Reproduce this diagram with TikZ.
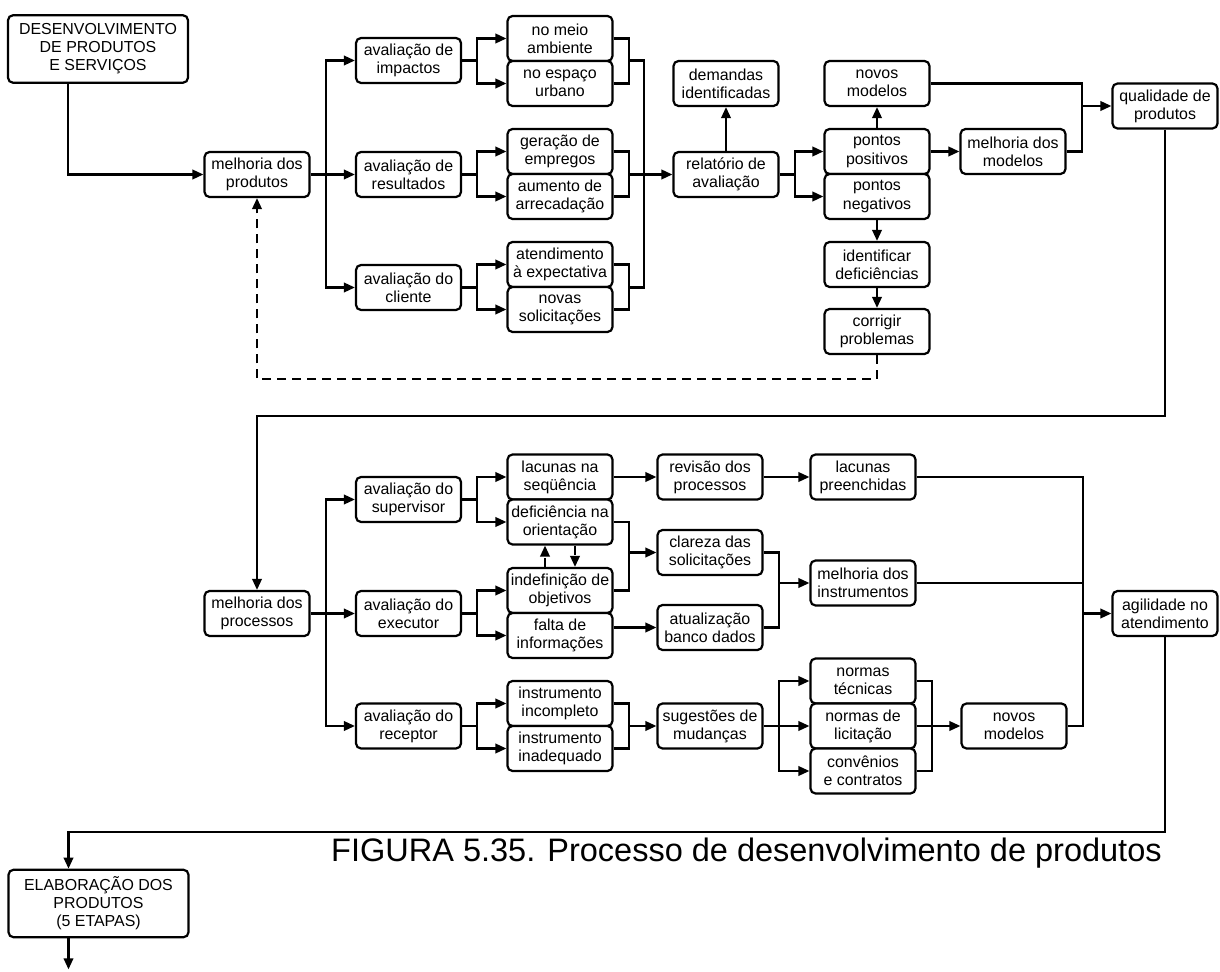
\documentclass[tikz,border=0pt]{standalone}
\usepackage{fontspec}
\setmainfont{Liberation Sans}
\usetikzlibrary{positioning,arrows.meta,calc}
\tikzset{
  procbox/.style={rectangle,rounded corners=0.1cm,draw=black,line width=1.25pt,
    fill=white,align=center,font=\fontsize{9.07}{10.3}\selectfont,
    minimum width=2.1cm,minimum height=0.9cm,inner sep=0pt},
  bigbox/.style={procbox,minimum width=3.6cm,minimum height=1.35cm},
  fl/.style={-{Triangle[length=0.22cm,width=0.19cm]},draw=black,line width=1.2pt},
  ln/.style={draw=black,line width=1.2pt},
  dfl/.style={fl,dash pattern=on 0.18cm off 0.12cm},
}
\begin{document}
\begin{tikzpicture}[x=0.02cm,y=-0.02cm]
  \useasboundingbox (0,0) rectangle (1220,972);
  % --- Parte 1: produtos ---
  \node[bigbox] (dev) at (98,49) {DESENVOLVIMENTO\\DE PRODUTOS\\E SERVIÇOS};
  \node[procbox] (mprod) at (257,174.5) {melhoria dos\\produtos};
  \foreach \name/\y/\lab in {avimp/60.5/{avaliação de\\impactos},avres/174.5/{avaliação de\\resultados},avcli/287.5/{avaliação do\\cliente}}{
    \node[procbox] (\name) at (408.5,\y) {\lab};}
  \foreach \name/\y/\lab in {meio/38.5/{no meio\\ambiente},urb/83.5/{no espaço\\urbano},emp/151.5/{geração de\\empregos},arr/196.5/{aumento de\\arrecadação},expc/264.5/{atendimento\\à expectativa},sol/309.5/{novas\\solicitações}}{
    \node[procbox] (\name) at (560,\y) {\lab};}
  \node[procbox] (relat) at (726,174.5) {relatório de\\avaliação};
  \node[procbox] (dem) at (726,83.5) {demandas\\identificadas};
  \node[procbox] (novos) at (877,83.5) {novos\\modelos};
  \node[procbox] (ppos) at (877,151.5) {pontos\\positivos};
  \node[procbox] (pneg) at (877,196.5) {pontos\\negativos};
  \node[procbox] (ident) at (877,264.5) {identificar\\deficiências};
  \node[procbox] (corr) at (877,331.5) {corrigir\\problemas};
  \node[procbox] (mmod) at (1013,151.5) {melhoria dos\\modelos};
  \node[procbox] (qual) at (1165,106) {qualidade de\\produtos};
  % --- Ligações parte 1 ---
  \coordinate (devout) at ($(dev.south)+(-30,0)$);
  \coordinate (b0) at ($(mprod.east)+(15,0)$);
  \draw[fl] (devout) |- (mprod.west);
  \draw[fl] (mprod.east) -- (avres.west);
  \draw[fl] (b0) |- (avimp.west);
  \draw[fl] (b0) |- (avcli.west);
  \foreach \a/\t/\b in {avimp/meio/urb,avres/emp/arr,avcli/expc/sol}{
    \coordinate (\a-b) at ($(\a.east)+(15,0)$);
    \coordinate (\t-j) at ($(\t.east)+(15,0)$);
    \draw[ln] (\a.east) -- (\a-b);
    \draw[fl] (\a-b) |- (\t.west);
    \draw[fl] (\a-b) |- (\b.west);
    \draw[ln] (\t.east) -- (\t-j) |- (\b.east);}
  \coordinate (jr) at ($(meio-j)+(15,0)$);
  \draw[ln] (meio-j |- avimp.east) -- (jr |- avimp.east) -- (jr |- avcli.east) -- (expc-j |- avcli.east);
  \draw[fl] (emp-j |- relat.west) -- (relat.west);
  \draw[fl] (relat.north) -- (dem.south);
  \coordinate (rb) at ($(relat.east)+(15,0)$);
  \draw[ln] (relat.east) -- (rb);
  \draw[fl] (rb) |- (ppos.west);
  \draw[fl] (rb) |- (pneg.west);
  \draw[fl] (ppos.north) -- (novos.south);
  \draw[fl] (ppos.east) -- (mmod.west);
  \draw[fl] (pneg.south) -- (ident.north);
  \draw[fl] (ident.south) -- (corr.north);
  \coordinate (jq) at ($(mmod.east)+(15,0)$);
  \draw[ln] (novos.east) -| (jq) -- (mmod.east);
  \draw[fl] (jq |- qual.west) -- (qual.west);
  \draw[dfl] (corr.south) -- ++(0,24) -| (mprod.south);
  % --- Parte 2: processos ---
  \coordinate (volta) at (0,416);
  \node[procbox] (mproc) at (257,613.5) {melhoria dos\\processos};
  \foreach \name/\y/\lab in {avsup/499.5/{avaliação do\\supervisor},avexe/613.5/{avaliação do\\executor},avrec/726/{avaliação do\\receptor}}{
    \node[procbox] (\name) at (408.5,\y) {\lab};}
  \foreach \name/\y/\lab in {lacs/477/{lacunas na\\seqüência},defi/522/{deficiência na\\orientação},indef/590.5/{indefinição de\\objetivos},falta/635.5/{falta de\\informações},incomp/703.5/{instrumento\\incompleto},inadq/748.5/{instrumento\\inadequado}}{
    \node[procbox] (\name) at (560,\y) {\lab};}
  \node[procbox] (rev) at (710,477) {revisão dos\\processos};
  \node[procbox] (clar) at (710,552.5) {clareza das\\solicitações};
  \node[procbox] (atual) at (710,627.5) {atualização\\banco dados};
  \node[procbox] (sug) at (710,726) {sugestões de\\mudanças};
  \node[procbox] (lacp) at (863,477) {lacunas\\preenchidas};
  \node[procbox] (minst) at (863,583) {melhoria dos\\instrumentos};
  \node[procbox] (ntec) at (863,681) {normas\\técnicas};
  \node[procbox] (nlic) at (863,726) {normas de\\licitação};
  \node[procbox] (conv) at (863,771) {convênios\\e contratos};
  \node[procbox] (nmod) at (1014,726) {novos\\modelos};
  \node[procbox] (agil) at (1165,613.5) {agilidade no\\atendimento};
  % --- Ligações parte 2 ---
  \draw[fl] (qual.south) |- (mproc.north |- volta) -- (mproc.north);
  \coordinate (b1) at ($(mproc.east)+(15,0)$);
  \draw[fl] (mproc.east) -- (avexe.west);
  \draw[fl] (b1) |- (avsup.west);
  \draw[fl] (b1) |- (avrec.west);
  \foreach \a/\t/\b in {avsup/lacs/defi,avexe/indef/falta,avrec/incomp/inadq}{
    \coordinate (\a-b) at ($(\a.east)+(15,0)$);
    \draw[ln] (\a.east) -- (\a-b);
    \draw[fl] (\a-b) |- (\t.west);
    \draw[fl] (\a-b) |- (\b.west);}
  \draw[fl] (lacs.east) -- (rev.west);
  \draw[fl] (rev.east) -- (lacp.west);
  \coordinate (jd) at ($(defi.east)+(15,0)$);
  \draw[ln] (defi.east) -- (jd) |- (indef.east);
  \draw[fl] (jd |- clar.west) -- (clar.west);
  \draw[fl] (falta.east |- atual.west) -- (atual.west);
  \draw[dfl] ([xshift=-0.3cm]indef.north) -- ([xshift=-0.3cm]defi.south);
  \draw[dfl] ([xshift=0.3cm]defi.south) -- ([xshift=0.3cm]indef.north);
  \coordinate (jc) at ($(clar.east)+(15,0)$);
  \draw[ln] (clar.east) -- (jc) |- (atual.east);
  \draw[fl] (jc |- minst.west) -- (minst.west);
  \coordinate (ji) at ($(incomp.east)+(15,0)$);
  \draw[ln] (incomp.east) -- (ji) |- (inadq.east);
  \draw[fl] (ji |- sug.west) -- (sug.west);
  \coordinate (sb) at ($(sug.east)+(15,0)$);
  \draw[fl] (sug.east) -- (nlic.west);
  \draw[fl] (sb) |- (ntec.west);
  \draw[fl] (sb) |- (conv.west);
  \coordinate (jn) at ($(ntec.east)+(15,0)$);
  \draw[ln] (ntec.east) -- (jn) |- (conv.east);
  \draw[fl] (nlic.east) -- (nmod.west);
  \coordinate (ja) at ($(nmod.east)+(15,0)$);
  \draw[ln] (lacp.east) -| (ja) -- (nmod.east);
  \draw[ln] (minst.east) -- (ja |- minst.east);
  \draw[fl] (ja |- agil.west) -- (agil.west);
  % --- Saída ---
  \coordinate (volta2) at (0,832);
  \node[bigbox] (elab) at (98.5,903.5) {ELABORAÇÃO DOS\\PRODUTOS\\(5 ETAPAS)};
  \coordinate (eo) at ($(elab.north)+(-30,0)$);
  \coordinate (eu) at ($(elab.south)+(-30,0)$);
  \draw[fl] (agil.south) |- (eo |- volta2) -- (eo);
  \draw[fl] (eu) -- ++(0,31);
  \node[anchor=base west,font=\fontsize{18.5}{22}\selectfont] (tit) at (325,861) {FIGURA 5.35. Processo de desenvolvimento de produtos};
\end{tikzpicture}
\end{document}
